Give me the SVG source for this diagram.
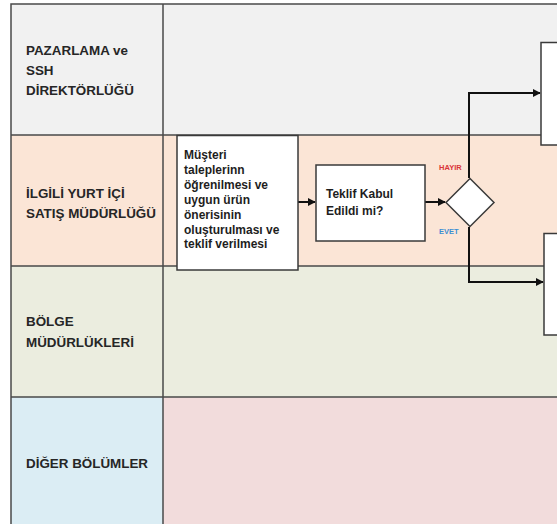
<svg xmlns="http://www.w3.org/2000/svg" width="557" height="525" viewBox="0 0 557 525">
<style>
.lane{stroke:none}
.grid{stroke:#4a4a4a;stroke-width:1.5;fill:none}
.lbl{font-family:"Liberation Sans",Arial,sans-serif;font-weight:bold;font-size:13.4px;fill:#262626}
.box{fill:#ffffff;stroke:#3a3a3a;stroke-width:1.5}
.btxt{font-family:"Liberation Sans",Arial,sans-serif;font-weight:bold;font-size:12px;fill:#1e1e1e}
.con{stroke:#111;stroke-width:2;fill:none}
.tag{font-family:"Liberation Sans",Arial,sans-serif;font-weight:bold;font-size:7.5px}
</style>
<defs>
<marker id="arr" viewBox="0 0 10 10" refX="9" refY="5" markerWidth="4" markerHeight="4" orient="auto" markerUnits="strokeWidth">
<path d="M0,0 L10,5 L0,10 z" fill="#111"/>
</marker>
</defs>
<rect width="557" height="525" fill="#ffffff"/>
<g id="lanes">
<rect class="lane" x="11" y="4" width="546" height="131" fill="#f1f1f1"/>
<rect class="lane" x="11" y="135" width="546" height="131" fill="#fbe5d6"/>
<rect class="lane" x="11" y="266" width="546" height="131" fill="#ebeddf"/>
<rect class="lane" x="11" y="397" width="152" height="127" fill="#dbedf4"/>
<rect class="lane" x="163" y="397" width="394" height="127" fill="#f2dcdc"/>
<path class="grid" d="M557,4 H11 V524 M163,4 V524 M11,135 H557 M11,266 H557 M11,397 H557"/>
</g>
<g id="lane-labels">
<text class="lbl" x="26" y="55">PAZARLAMA ve</text>
<text class="lbl" x="26" y="75">SSH</text>
<text class="lbl" x="26" y="95">DİREKTÖRLÜĞÜ</text>
<text class="lbl" x="26" y="198">İLGİLİ YURT İÇİ</text>
<text class="lbl" x="26" y="218">SATIŞ MÜDÜRLÜĞÜ</text>
<text class="lbl" x="26" y="326">BÖLGE</text>
<text class="lbl" x="26" y="347">MÜDÜRLÜKLERİ</text>
<text class="lbl" x="26" y="468">DİĞER BÖLÜMLER</text>
</g>
<g id="connectors">
<path class="con" d="M298,202 H315" marker-end="url(#arr)"/>
<path class="con" d="M425,202 H445" marker-end="url(#arr)"/>
<path class="con" d="M469,178 V93 H540" marker-end="url(#arr)"/>
<path class="con" d="M469,227 V282 H543" marker-end="url(#arr)"/>
</g>
<g id="node-musteri">
<rect class="box" x="177" y="135.5" width="121" height="134.5"/>
<text class="btxt" x="184" y="159">Müşteri</text>
<text class="btxt" x="184" y="174">taleplerinn</text>
<text class="btxt" x="184" y="189">öğrenilmesi ve</text>
<text class="btxt" x="184" y="204">uygun ürün</text>
<text class="btxt" x="184" y="219">önerisinin</text>
<text class="btxt" x="184" y="233.5">oluşturulması ve</text>
<text class="btxt" x="184" y="248">teklif verilmesi</text>
</g>
<g id="node-teklif">
<rect class="box" x="316" y="165" width="109" height="76"/>
<text class="btxt" x="326" y="198">Teklif Kabul</text>
<text class="btxt" x="326" y="215">Edildi mi?</text>
</g>
<g id="node-decision">
<path class="box" d="M470,178.5 L494,202.5 L470,226.5 L446,202.5 Z"/>
<text class="tag" x="439" y="169.5" fill="#d9343a">HAYIR</text>
<text class="tag" x="439" y="234" fill="#3b8ed3">EVET</text>
</g>
<g id="node-top-right">
<rect class="box" x="541" y="42.5" width="30" height="102.5"/>
</g>
<g id="node-bottom-right">
<rect class="box" x="544" y="233.5" width="30" height="101.5"/>
</g>
</svg>
